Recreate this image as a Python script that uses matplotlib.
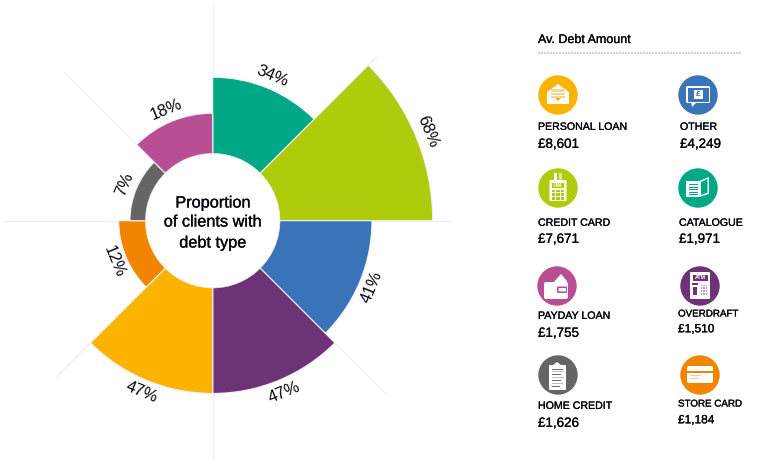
import numpy as np
import matplotlib
matplotlib.use("Agg")
import matplotlib.pyplot as plt
import matplotlib.patheffects as pe
from matplotlib.patches import Circle, Rectangle, FancyBboxPatch, Polygon

plt.rcParams['font.family'] = ['Liberation Sans', 'DejaVu Sans']

# proportion of clients, clockwise from 12 o'clock
shares = [34, 68, 41, 47, 47, 12, 7, 18]
share_colors = ['#00A886', '#B0CB0B', '#3973B8', '#6E3277', '#FBB300', '#F28500', '#656565', '#B84F94']
center_title = "Proportion\nof clients with\ndebt type"

# average debt amounts
debt_title = "Av. Debt Amount"
debt_types = ['PERSONAL LOAN', 'OTHER', 'CREDIT CARD', 'CATALOGUE',
              'PAYDAY LOAN', 'OVERDRAFT', 'HOME CREDIT', 'STORE CARD']
debt_amounts = ['£8,601', '£4,249', '£7,671', '£1,971',
                '£1,755', '£1,510', '£1,626', '£1,184']
debt_colors = ['#FBB300', '#3973B8', '#B0CB0B', '#00A886',
               '#B84F94', '#6E3277', '#656565', '#F28500']

# layout in image pixels
W, H = 776, 466
CX, CY = 212.7, 220.7
PX_PER_UNIT = 2.25
INNER_PX = 67.0
OUTER_UNITS = 80
TEXT_COLOR = '#05050f'
spoke_px = [218, 232, 237, 245, 237, 220, 210, 209]

# icon x, icon y, text x, label y, value y, label px, value px
slots = [
    (558, 95, 538, 126, 143, 10.6, 13.4),
    (698, 95, 680, 126, 143, 10.6, 13.4),
    (558, 188, 538, 222, 238, 10.6, 13.4),
    (698, 188, 679, 222, 238, 10.6, 13.4),
    (557, 286, 538, 315, 332, 10.6, 13.4),
    (700, 286, 678, 313, 328, 9.8, 11.9),
    (558, 375, 538, 405, 422, 10.6, 13.4),
    (700, 375, 678, 403, 419, 9.8, 11.9),
]

thin = [pe.withStroke(linewidth=0.2, foreground=TEXT_COLOR)]


def px_to_pt(px):
    return px * 72 / 100


fig = plt.figure(figsize=(W / 100, H / 100), dpi=100, facecolor='white')

# rose chart
outer_px = INNER_PX + OUTER_UNITS * PX_PER_UNIT
ax = fig.add_axes([(CX - outer_px) / W, 1 - (CY + outer_px) / H,
                   2 * outer_px / W, 2 * outer_px / H], projection='polar')
ax.set_theta_zero_location('N')
ax.set_theta_direction(-1)
ax.set_rorigin(-INNER_PX / PX_PER_UNIT)
ax.set_ylim(0, OUTER_UNITS)
ax.axis('off')
ax.patch.set_alpha(0)

step = 2 * np.pi / len(shares)
for i, length in enumerate(spoke_px):
    ax.plot([i * step, i * step], [0, (length - INNER_PX) / PX_PER_UNIT],
            color='#EEEEF3', lw=0.8, zorder=1, clip_on=False)

mids = (np.arange(len(shares)) + 0.5) * step
ax.bar(mids, shares, width=step, bottom=0, color=share_colors,
       edgecolor='#F2F2F2', linewidth=0.8, zorder=2)

for theta, value in zip(mids, shares):
    deg = np.degrees(theta)
    if deg < 90:
        rot = -deg
    elif deg < 270:
        rot = 180 - deg
    else:
        rot = 360 - deg
    ax.text(theta, value + 13 / PX_PER_UNIT, f"{value}%", rotation=rot,
            rotation_mode='anchor', ha='center', va='center',
            fontsize=px_to_pt(16.5), color=TEXT_COLOR, zorder=3)

# overlay in pixel coordinates for the text and the icons
ov = fig.add_axes([0, 0, 1, 1])
ov.set_xlim(0, W)
ov.set_ylim(H, 0)
ov.axis('off')
ov.patch.set_alpha(0)

for line, y in zip(center_title.split('\n'), [203, 222, 243]):
    ov.text(CX, y, line, ha='center', va='center', fontsize=px_to_pt(16.3),
            color=TEXT_COLOR, path_effects=thin)

ov.text(538, 43, debt_title, fontsize=px_to_pt(12.5), color=TEXT_COLOR, va='baseline', path_effects=thin)
ov.plot([538, 741], [53, 53], color='#D4D4D4', lw=1.6, linestyle=(0, (1, 0.35)))


def box(x, y, w, h, color='white', z=5, round_px=0):
    if round_px:
        ov.add_patch(FancyBboxPatch((x, y), w, h, boxstyle=f"round,pad=0,rounding_size={round_px}",
                                    fc=color, ec='none', zorder=z))
    else:
        ov.add_patch(Rectangle((x, y), w, h, fc=color, ec='none', zorder=z))


def poly(points, color='white', z=5):
    ov.add_patch(Polygon(points, closed=True, fc=color, ec='none', zorder=z))


def icon_envelope(x, y, bg):
    poly([(x - 11, y - 3), (x, y - 11), (x + 11, y - 3), (x + 11, y + 9), (x - 11, y + 9)])
    box(x - 7, y - 6, 14, 9, '#F8D49B', 6)
    for dy in (-3, 0):
        box(x - 7, y + dy, 14, 0.8, 'white', 7)
    poly([(x - 3, y + 3), (x + 3, y + 3), (x, y + 6)], bg, 7)


def icon_bubble(x, y, bg):
    box(x - 12, y - 9, 24, 17, 'white', 5, 1.5)
    poly([(x - 7, y + 7), (x - 1, y + 7), (x - 6, y + 12)])
    box(x - 10.5, y - 7.5, 21, 14, bg, 6)
    box(x - 4.5, y - 5.5, 9, 9.5, 'white', 7)
    ov.text(x, y - 0.8, '£', ha='center', va='center', fontsize=6, fontweight='bold', color=bg, zorder=8)


def icon_terminal(x, y, bg):
    box(x - 4.5, y - 15, 3, 8)
    box(x + 0.5, y - 15, 3.5, 8, '#DDE8A0')
    box(x - 8.5, y - 8, 17, 21, 'white', 5, 1)
    box(x - 6, y - 5.5, 12, 5.5, bg, 6)
    ov.text(x, y - 2.7, 'PIN', ha='center', va='center', fontsize=3.5, fontweight='bold', color='white', zorder=7)
    for row in range(3):
        for col in range(3):
            box(x - 6.5 + col * 4.6, y + 1.5 + row * 3.8, 3.6, 2.8, bg, 6)


def icon_book(x, y, bg):
    poly([(x - 12, y - 7), (x + 1, y - 7), (x + 1, y + 9), (x - 12, y + 9)])
    poly([(x + 1, y - 7), (x + 11, y - 11), (x + 11, y + 6), (x + 1, y + 9)])
    poly([(x + 3, y - 6), (x + 9.5, y - 9), (x + 9.5, y + 4.5), (x + 3, y + 7)], bg, 6)
    for k in range(5):
        box(x - 9.5, y - 4 + k * 2.6, 9, 1.1, bg, 6)


def icon_wallet(x, y, bg):
    poly([(x - 4, y - 3), (x + 4, y - 12), (x + 10, y - 5), (x + 10, y - 3)])
    box(x - 13, y - 4, 24, 17, 'white', 5, 2)
    box(x + 0, y + 0.5, 10, 6.5, bg, 6, 1)
    box(x + 1.5, y + 2, 7.5, 3.5, 'white', 7, 1)
    box(x - 13, y - 5, 24, 1, bg, 4)


def icon_atm(x, y, bg):
    box(x - 10, y - 14, 20, 27, 'white', 5, 1)
    box(x - 7.5, y - 11.5, 15, 6.5, bg, 6)
    ov.text(x, y - 8.2, 'ATM', ha='center', va='center', fontsize=3.8, fontweight='bold', color='white', zorder=7)
    box(x - 8, y - 3, 6, 2, bg, 6)
    box(x - 7, y + 1, 4, 8, bg, 6)
    for row in range(4):
        for col in range(3):
            box(x + 0.5 + col * 2.6, y - 1.5 + row * 2.9, 1.5, 1.5, '#B79ABD', 6)


def icon_clipboard(x, y, bg):
    box(x - 9, y - 10, 17, 25, 'white', 5, 1)
    poly([(x - 5, y - 10), (x - 1, y - 13), (x + 3, y - 10)])
    for k, w in enumerate([11, 12, 9, 12, 9, 11, 8]):
        box(x - 6.5, y - 6.5 + k * 2.9, w, 1, '#C9B8C4' if k % 2 else '#6B6B6B', 6)


def icon_card(x, y, bg):
    box(x - 13, y - 9, 26, 17, 'white', 5, 2)
    box(x - 13, y - 4, 26, 1.5, bg, 6)
    box(x - 10, y + 0, 11, 1, '#F8C98D', 6)
    box(x - 10, y + 3, 9, 1, '#F8C98D', 6)


icons = [icon_envelope, icon_bubble, icon_terminal, icon_book,
         icon_wallet, icon_atm, icon_clipboard, icon_card]

for name, amount, color, slot, draw_icon in zip(debt_types, debt_amounts, debt_colors, slots, icons):
    ix, iy, tx, ly, vy, lpx, vpx = slot
    ov.add_patch(Circle((ix, iy), 19.7, fc=color, ec='none', zorder=4))
    draw_icon(ix, iy, color)
    ov.text(tx, ly + 0.36 * lpx, name, fontsize=px_to_pt(lpx), color=TEXT_COLOR, va='baseline', path_effects=thin)
    ov.text(tx, vy + 0.36 * vpx, amount, fontsize=px_to_pt(vpx), color=TEXT_COLOR, va='baseline', path_effects=thin)

fig.savefig('out.png', dpi=100)
